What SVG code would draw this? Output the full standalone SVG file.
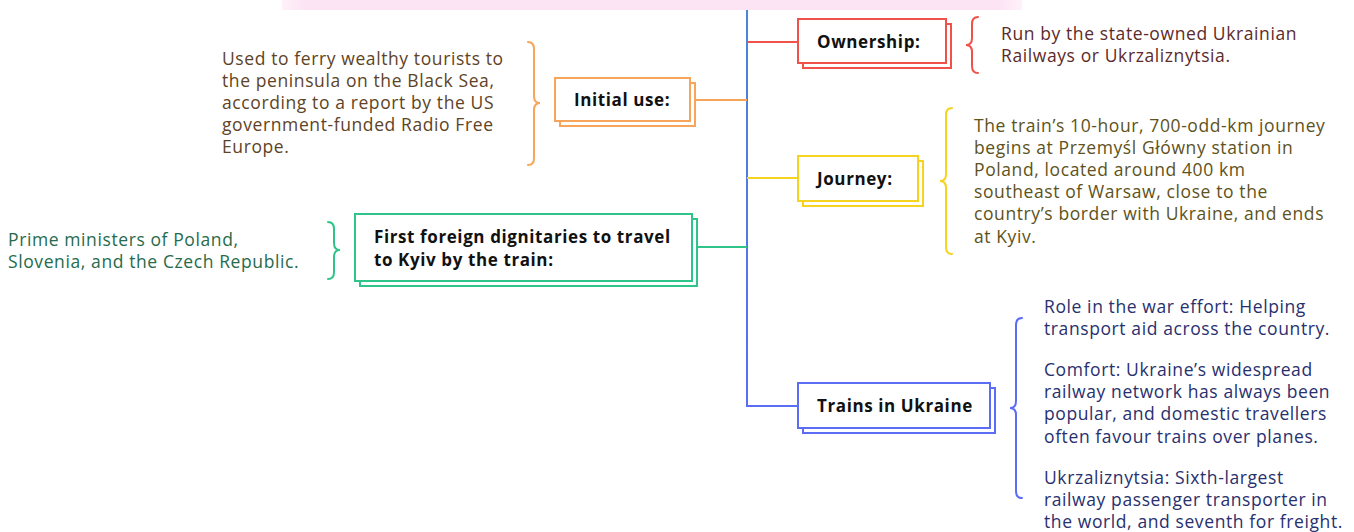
<svg xmlns="http://www.w3.org/2000/svg" width="1354" height="532" viewBox="0 0 1354 532">
<defs>
<linearGradient id="trunkG" x1="0" y1="0" x2="0" y2="1">
<stop offset="0" stop-color="#4a86d6"/>
<stop offset="1" stop-color="#5b6cf5"/>
</linearGradient>
<linearGradient id="pinkG" x1="0" y1="0" x2="1" y2="0">
<stop offset="0" stop-color="#fde4f4" stop-opacity="0.5"/>
<stop offset="0.03" stop-color="#fde4f4"/>
<stop offset="0.97" stop-color="#fde4f4"/>
<stop offset="1" stop-color="#fde4f4" stop-opacity="0.5"/>
</linearGradient>
</defs>
<style>
.lbl{font-family:"Open Sans","Liberation Sans",sans-serif;font-weight:bold;font-size:17px;letter-spacing:0.6px;fill:#111}
.txt{font-family:"Open Sans","Liberation Sans",sans-serif;font-size:17.5px;letter-spacing:0.6px}
.box{fill:#fff;stroke-width:2}
.br{fill:none;stroke-width:2;stroke-linecap:round}
.cn{fill:none;stroke-width:2}
</style>
<rect x="282" y="0" width="740" height="10" fill="url(#pinkG)"/>

<g id="connectors">
<path class="cn" d="M747,10 V406 H798" stroke="url(#trunkG)"/>
<path class="cn" d="M747,42 H798" stroke="#f0524a"/>
<path class="cn" d="M693,100 H747" stroke="#f7a55a"/>
<path class="cn" d="M747,178 H798" stroke="#f5d31e"/>
<path class="cn" d="M693,247 H747" stroke="#2fc48a"/>
</g>

<g id="ownership">
<rect class="box" x="803" y="24" width="148" height="44" stroke="#f0524a"/>
<rect class="box" x="798" y="19" width="148" height="44" stroke="#f0524a"/>
<text class="lbl" x="817" y="48">Ownership:</text>
<path class="br" stroke="#f0524a" d="M978,17 Q972,17 972,24 V38 Q972,45 966,45 Q972,45 972,52 V66 Q972,73 978,73"/>
<text class="txt" fill="#5c2a2a"><tspan x="1001" y="40">Run by the state-owned Ukrainian</tspan><tspan x="1001" y="62">Railways or Ukrzaliznytsia.</tspan></text>
</g>

<g id="initial-use">
<rect class="box" x="560" y="83" width="135" height="43" stroke="#f7a55a"/>
<rect class="box" x="555" y="78" width="135" height="43" stroke="#f7a55a"/>
<text class="lbl" x="574" y="106">Initial use:</text>
<path class="br" stroke="#f7a55a" d="M528,42 Q534,42 534,49 V96 Q534,103 540,103 Q534,103 534,110 V158 Q534,165 528,165"/>
<text class="txt" fill="#5e4326"><tspan x="222" y="65">Used to ferry wealthy tourists to</tspan><tspan x="222" y="87">the peninsula on the Black Sea,</tspan><tspan x="222" y="109">according to a report by the US</tspan><tspan x="222" y="131">government-funded Radio Free</tspan><tspan x="222" y="153">Europe.</tspan></text>
</g>

<g id="journey">
<rect class="box" x="803" y="161" width="120" height="45" stroke="#f5d31e"/>
<rect class="box" x="798" y="156" width="120" height="45" stroke="#f5d31e"/>
<text class="lbl" x="817" y="185">Journey:</text>
<path class="br" stroke="#f5d31e" d="M952,108 Q946,108 946,115 V174 Q946,181 940,181 Q946,181 946,188 V247 Q946,254 952,254"/>
<text class="txt" fill="#5e5220"><tspan x="974" y="132">The train’s 10-hour, 700-odd-km journey</tspan><tspan x="974" y="154">begins at Przemyśl Główny station in</tspan><tspan x="974" y="176">Poland, located around 400 km</tspan><tspan x="974" y="198">southeast of Warsaw, close to the</tspan><tspan x="974" y="220">country’s border with Ukraine, and ends</tspan><tspan x="974" y="243">at Kyiv.</tspan></text>
</g>

<g id="first-foreign">
<rect class="box" x="360" y="219" width="337" height="67" stroke="#2fc48a"/>
<rect class="box" x="355" y="214" width="337" height="67" stroke="#2fc48a"/>
<text class="lbl"><tspan x="374" y="243">First foreign dignitaries to travel</tspan><tspan x="374" y="266">to Kyiv by the train:</tspan></text>
<path class="br" stroke="#2fc48a" d="M328,222 Q334,222 334,229 V243 Q334,250 340,250 Q334,250 334,257 V272 Q334,279 328,279"/>
<text class="txt" fill="#266b4c"><tspan x="8" y="246">Prime ministers of Poland,</tspan><tspan x="8" y="268">Slovenia, and the Czech Republic.</tspan></text>
</g>

<g id="trains">
<rect class="box" x="803" y="388" width="192" height="45" stroke="#5b6cf5"/>
<rect class="box" x="798" y="383" width="192" height="45" stroke="#5b6cf5"/>
<text class="lbl" x="817" y="412">Trains in Ukraine</text>
<path class="br" stroke="#5b6cf5" d="M1022,318 Q1016,318 1016,325 V401 Q1016,408 1010,408 Q1016,408 1016,415 V491 Q1016,498 1022,498"/>
<text class="txt" fill="#28306e"><tspan x="1044" y="313">Role in the war effort: Helping</tspan><tspan x="1044" y="335">transport aid across the country.</tspan><tspan x="1044" y="376">Comfort: Ukraine’s widespread</tspan><tspan x="1044" y="398">railway network has always been</tspan><tspan x="1044" y="420">popular, and domestic travellers</tspan><tspan x="1044" y="443">often favour trains over planes.</tspan><tspan x="1044" y="484">Ukrzaliznytsia: Sixth-largest</tspan><tspan x="1044" y="506">railway passenger transporter in</tspan><tspan x="1044" y="528">the world, and seventh for freight.</tspan></text>
</g>
</svg>
